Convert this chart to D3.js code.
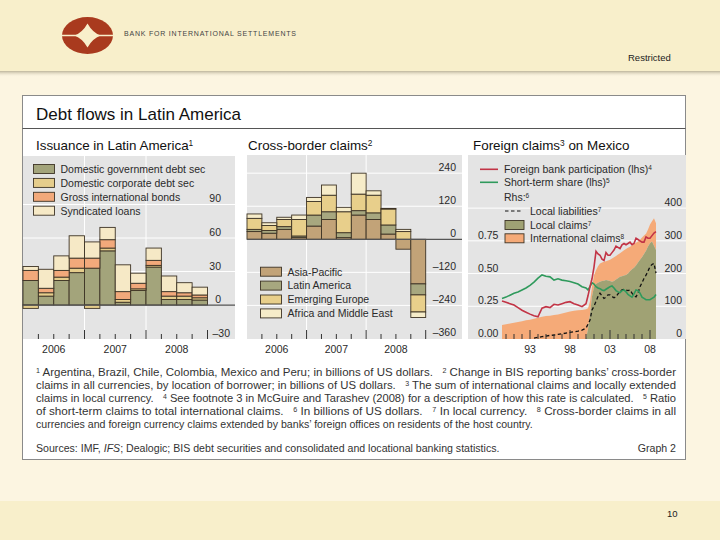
<!DOCTYPE html>
<html><head><meta charset="utf-8">
<script src="https://cdn.jsdelivr.net/npm/d3@7"></script>
<style>
body{margin:0;background:#fcf5e1;}
svg{display:block;font-family:"Liberation Sans",Arial,sans-serif;}
text{white-space:pre;}
</style></head><body>
<svg id="c" width="720" height="540"></svg>
<script>
// ---------- DATA ----------
const quarters = ["2006Q1","2006Q2","2006Q3","2006Q4","2007Q1","2007Q2","2007Q3","2007Q4","2008Q1","2008Q2","2008Q3","2008Q4"];
const yearLabels = ["2006","2007","2008"];

// Panel 1: Issuance in Latin America (USD bn)
const govDebt   = [22, 8, 22, 29, 33, 48.5, 2.5, 13, 34, 5, 5, 4.5];
const corpDebt  = [-3, 3, 3, 4, -3, 2.5, 2.5, 1.5, 1.5, 3, 3, 2];
const intlBonds = [9, 4, 6, 9, 9, 7.5, 7, 5, 4.5, 4, 3, 2.5];
const syndLoans = [3.5, 17, 13, 20, 14.5, 11, 24, 9, 11, 14, 9, 7];
const issuanceNames = ["Domestic government debt sec","Domestic corporate debt sec","Gross international bonds","Syndicated loans"];
const issuanceTicks = [-30, 0, 30, 60, 90];

// Panel 2: Cross-border claims (USD bn)
const asiaPacific = [28, 22, 36, 6, 48, 72, 6, 88, 72, 19, -36, -162];
const latinAm     = [8, 10, 10, 6, 40, 28, 18, 16, 24, 33, 0, -40];
const emEurope    = [40, 18, 26, 60, 49, 60, 76, 60, 64, 58, 28, -62];
const africaME    = [16, 10, 8, 16, 15, 37, 16, 76, 16, 2, 8, -20];
const crossNames = ["Asia-Pacific","Latin America","Emerging Europe","Africa and Middle East"];
const crossTicks = [-360, -240, -120, 0, 120, 240];

// Panel 3: Foreign claims on Mexico (semi-annual to 1999, quarterly from 2000)
const mexDates = [1989.5,1990,1990.5,1991,1991.5,1992,1992.5,1993,1993.5,1994,1994.5,1995,1995.5,1996,1996.5,1997,1997.5,1998,1998.5,1999,1999.5,
  2000,2000.25,2000.5,2000.75,2001,2001.25,2001.5,2001.75,2002,2002.25,2002.5,2002.75,2003,2003.25,2003.5,2003.75,2004,2004.25,2004.5,2004.75,
  2005,2005.25,2005.5,2005.75,2006,2006.25,2006.5,2006.75,2007,2007.25,2007.5,2007.75,2008,2008.25,2008.5,2008.75];
const foreignBankPart = [0.29,0.28,0.27,0.26,0.24,0.22,0.205,0.19,0.178,0.17,0.235,0.247,0.24,0.265,0.26,0.27,0.28,0.285,0.27,0.26,0.247,
  0.27,0.33,0.40,0.46,0.55,0.67,0.65,0.64,0.61,0.60,0.66,0.64,0.64,0.66,0.68,0.71,0.70,0.69,0.72,0.73,
  0.72,0.73,0.74,0.72,0.73,0.77,0.76,0.75,0.74,0.74,0.78,0.77,0.77,0.79,0.81,0.82];
const shortTermShare = [0.31,0.32,0.335,0.35,0.36,0.375,0.39,0.41,0.435,0.465,0.49,0.48,0.475,0.45,0.46,0.45,0.445,0.44,0.43,0.42,0.40,
  0.39,0.375,0.40,0.43,0.42,0.40,0.39,0.385,0.375,0.37,0.38,0.39,0.40,0.405,0.39,0.37,0.36,0.355,0.37,0.375,
  0.36,0.34,0.33,0.32,0.345,0.375,0.37,0.35,0.32,0.31,0.30,0.30,0.30,0.31,0.32,0.34];
const localClaims = [0,0,0,0,0,0,0,0,0,0,0,0,0,0,0,0,0,0,0,0,0,
  0,30,75,130,160,168,172,175,177,178,180,179,177,175,177,182,186,190,192,194,
  196,200,207,213,218,225,234,242,250,260,270,283,293,298,285,272];
const intlClaims = [43,45,47,50,52,54,57,59,62,65,68,70,71,73,75,78,81,84,86,88,89,
  91,64,40,30,35,42,50,56,57,58,58,61,65,71,73,72,72,72,75,77,
  79,79,75,73,72,69,64,61,60,56,52,52,57,62,84,82];
const localLiab = [null,null,null,null,null,null,null,null,3,5,7,9,11,12,14,16,18,20,22,24,27,
  33,45,58,89,100,115,130,140,132,124,128,135,135,130,126,129,138,145,150,152,
  150,148,150,140,132,129,140,160,172,185,195,208,221,228,231,201];
const lhsTicks = [0, 0.25, 0.5, 0.75];
const lhsTickLabels = ["0.00","0.25","0.50","0.75"];
const rhsTicks = [0, 100, 200, 300, 400];
const mexYears = [1993, 1998, 2003, 2008];
const mexYearLabels = ["93","98","03","08"];

// ---------- STYLE ----------
const GRAY = "#e4e4e4";
const INK = "#2a2a2a";
const svg = d3.select("#c");
const defs = svg.append("defs");

svg.append("rect").attr("width",720).attr("height",540).attr("fill","#fcf5e1");
svg.append("rect").attr("width",720).attr("height",71).attr("fill","#f8efcb");
const sh = defs.append("linearGradient").attr("id","sh").attr("x1",0).attr("y1",0).attr("x2",0).attr("y2",1);
sh.append("stop").attr("offset",0).attr("stop-color","#bdb59c");
sh.append("stop").attr("offset",1).attr("stop-color","#fcf5e1").attr("stop-opacity",0);
svg.append("rect").attr("y",71).attr("width",720).attr("height",6).attr("fill","url(#sh)");
svg.append("rect").attr("y",501).attr("width",720).attr("height",39).attr("fill","#f8efcb");

// logo
const logo = svg.append("g").attr("transform","translate(87.5,35.5)");
logo.append("ellipse").attr("rx",25.5).attr("ry",18.5).attr("fill","#a93a1e");
logo.append("path").attr("d","M0,-12 Q5,-3 13,0 Q5,3 0,12 Q-5,3 -13,0 Q-5,-3 0,-12Z").attr("fill","#f8efcb");
logo.append("line").attr("x1",-26).attr("x2",26).attr("y1",0).attr("y2",0).attr("stroke","#f8efcb").attr("stroke-width",1.6);
svg.append("text").attr("x",124).attr("y",36).attr("font-size",7).attr("fill","#444")
  .attr("textLength",172).attr("lengthAdjust","spacing").text("BANK FOR INTERNATIONAL SETTLEMENTS");
svg.append("text").attr("x",628).attr("y",61).attr("font-size",9.5).attr("fill","#222").text("Restricted");
svg.append("text").attr("x",667).attr("y",517).attr("font-size",9.5).attr("fill","#222").text("10");

// chart box
svg.append("rect").attr("x",22.5).attr("y",95.5).attr("width",663).attr("height",364).attr("fill","#fff").attr("stroke","#8a8a8a");
svg.append("text").attr("x",36).attr("y",120).attr("font-size",17).attr("fill","#111").text("Debt flows in Latin America");
svg.append("line").attr("x1",22.5).attr("x2",685.5).attr("y1",128.5).attr("y2",128.5).attr("stroke","#555");

function rich(sel, parts) {
  parts.forEach(p => {
    const t = sel.append("tspan").text(p[0]);
    if (p[1] === "sup") t.attr("font-size","0.62em").attr("baseline-shift","45%");
    if (p[1] === "it") t.attr("font-style","italic");
  });
  return sel;
}
function panelTitle(x, parts) {
  rich(svg.append("text").attr("x",x).attr("y",150).attr("font-size",13.4).attr("fill","#111"), parts);
}
panelTitle(36, [["Issuance in Latin America"],["1","sup"]]);
panelTitle(248, [["Cross-border claims"],["2","sup"]]);
panelTitle(473, [["Foreign claims"],["3","sup"],[" on Mexico"]]);

// ---------- stacked bar panels ----------
function stackedPanel(o) {
  const g = svg.append("g");
  g.append("rect").attr("x",o.x0).attr("y",o.yTop).attr("width",o.x1-o.x0).attr("height",o.yBot-o.yTop).attr("fill",GRAY);
  const y = d3.scaleLinear().domain(o.domain).range([o.yBot,o.yTop]);
  const x = d3.scaleBand().domain(quarters).range([o.x0,o.barsEnd]);
  const step = x.step();
  o.ticks.forEach(t => {
    if (t !== 0 && y(t) < o.yBot-1)
      g.append("line").attr("x1",o.x0).attr("x2",o.x1).attr("y1",y(t)).attr("y2",y(t)).attr("stroke","#fff").attr("stroke-width",1);
  });
  [4,8].forEach(i => g.append("line").attr("x1",o.x0+i*step).attr("x2",o.x0+i*step).attr("y1",o.yTop).attr("y2",o.yBot).attr("stroke","#fff"));
  const rows = quarters.map((q,i) => { const r = {q}; o.keys.forEach((k,j) => r[k] = o.series[j][i]); return r; });
  const st = d3.stack().keys(o.keys).offset(d3.stackOffsetDiverging)(rows);
  st.forEach((layer, j) => {
    g.selectAll(null).data(layer.filter(d => d[1] !== d[0])).join("rect")
      .attr("x", d => x(d.data.q)).attr("width", x.bandwidth())
      .attr("y", d => y(Math.max(d[0],d[1]))).attr("height", d => Math.abs(y(d[0]) - y(d[1])))
      .attr("fill", o.colors[j]).attr("stroke", "#3d3325").attr("stroke-width", 0.9);
  });
  g.append("line").attr("x1",o.x0).attr("x2",o.x1).attr("y1",y(0)).attr("y2",y(0)).attr("stroke","#555").attr("stroke-width",1.2);
  o.ticks.forEach(t => {
    g.append("text").attr("x",o.labelX + (t < 0 ? o.negShift : 0)).attr("y",y(t)-2).attr("text-anchor","end").attr("font-size",10.5).attr("fill",INK)
      .text(t < 0 ? "\u2013" + Math.abs(t) : t);
  });
  for (let i = 1; i <= 12; i++) {
    const len = i % 4 === 0 ? 9 : 5;
    g.append("line").attr("x1",o.x0+i*step).attr("x2",o.x0+i*step).attr("y1",o.yBot).attr("y2",o.yBot-len).attr("stroke","#333");
  }
  yearLabels.forEach((yl,k) => {
    g.append("text").attr("x",o.x0+(4*k+2)*step).attr("y",353).attr("text-anchor","middle").attr("font-size",10.5).attr("fill",INK).text(yl);
  });
  o.names.forEach((n,j) => {
    const cy = o.legY + j*o.legDy;
    g.append("rect").attr("x",o.legX).attr("y",cy-4.5).attr("width",21).attr("height",9).attr("fill",o.colors[j]).attr("stroke","#3d3325").attr("stroke-width",0.9);
    g.append("text").attr("x",o.legX+27).attr("y",cy+3.8).attr("font-size",10.5).attr("fill",INK).text(n);
  });
}

stackedPanel({
  x0:23, x1:235, barsEnd:207.5, yTop:156, yBot:339, domain:[-30.4,133.4],
  keys:["gov","corp","bonds","synd"], series:[govDebt,corpDebt,intlBonds,syndLoans],
  colors:["#a3a47b","#e5cd8c","#f2a97b","#f6e9c6"], ticks:issuanceTicks, labelX:221, negShift:9,
  names:issuanceNames, legX:33.5, legY:169, legDy:13.9
});
stackedPanel({
  x0:247, x1:462, barsEnd:425.7, yTop:155, yBot:339, domain:[-362,306],
  keys:["asia","latam","eur","afr"], series:[asiaPacific,latinAm,emEurope,africaME],
  colors:["#c2a378","#a7a77f","#e8cf8b","#f6ecc9"], ticks:crossTicks, labelX:456, negShift:0,
  names:crossNames, legX:260.5, legY:271.7, legDy:13.9
});

// ---------- Panel 3 ----------
(function(){
  const x0 = 468, x1 = 686, yTop = 155, yBot = 339;
  const g = svg.append("g");
  g.append("rect").attr("x",x0).attr("y",yTop).attr("width",x1-x0).attr("height",yBot-yTop).attr("fill",GRAY);
  const x = d3.scaleLinear().domain([1989.5, 2008.875]).range([502, 657]);
  const yR = d3.scaleLinear().domain([0, 562.4]).range([yBot, yTop]);
  const yL = d3.scaleLinear().domain([0, 1.406]).range([yBot, yTop]);
  rhsTicks.forEach(t => { if (t > 0) g.append("line").attr("x1",x0).attr("x2",x1).attr("y1",yR(t)).attr("y2",yR(t)).attr("stroke","#fff"); });
  const rows = mexDates.map((d,i) => ({d, local: localClaims[i], intl: intlClaims[i]}));
  const st = d3.stack().keys(["local","intl"])(rows);
  const area = d3.area().x(d => x(d.data.d)).y0(d => yR(d[0])).y1(d => yR(d[1]));
  g.append("path").attr("d", area(st[1])).attr("fill","#f5aa78");
  g.append("path").attr("d", area.defined(d => d[1] > 0 || d.data.d >= 1999.5)(st[0])).attr("fill","#a0a274");
  g.append("path").attr("d", d3.line().defined(d => d[1] !== null).x(d => x(d[0])).y(d => yR(d[1]))(mexDates.map((d,i)=>[d, localLiab[i]])))
    .attr("fill","none").attr("stroke","#111").attr("stroke-width",1.3).attr("stroke-dasharray","3.5,2.5");
  const lineL = d3.line().x(d => x(d[0])).y(d => yL(d[1]));
  g.append("path").attr("d", lineL(mexDates.map((d,i)=>[d, shortTermShare[i]]))).attr("fill","none").attr("stroke","#2f9a5c").attr("stroke-width",1.6);
  g.append("path").attr("d", lineL(mexDates.map((d,i)=>[d, foreignBankPart[i]]))).attr("fill","none").attr("stroke","#c23446").attr("stroke-width",1.6);
  lhsTicks.forEach((t,i) => g.append("text").attr("x",478).attr("y",yL(t)-2).attr("font-size",10.5).attr("fill",INK).text(lhsTickLabels[i]));
  rhsTicks.forEach(t => g.append("text").attr("x",682).attr("y",yR(t)-2).attr("text-anchor","end").attr("font-size",10.5).attr("fill",INK).text(t));
  for (let yr = 1990; yr <= 2008; yr++) {
    const len = mexYears.includes(yr) ? 9 : 5;
    g.append("line").attr("x1",x(yr)).attr("x2",x(yr)).attr("y1",yBot).attr("y2",yBot-len).attr("stroke","#333");
  }
  mexYears.forEach((yr,i) => g.append("text").attr("x",x(yr)).attr("y",353).attr("text-anchor","middle").attr("font-size",10.5).attr("fill",INK).text(mexYearLabels[i]));
  // legend
  const ly = [169.3, 182.3, 196.7, 211, 225, 238.3];
  g.append("line").attr("x1",480).attr("x2",498).attr("y1",ly[0]).attr("y2",ly[0]).attr("stroke","#c23446").attr("stroke-width",1.6);
  g.append("line").attr("x1",480).attr("x2",498).attr("y1",ly[1]).attr("y2",ly[1]).attr("stroke","#2f9a5c").attr("stroke-width",1.6);
  g.append("line").attr("x1",505).attr("x2",523).attr("y1",ly[3]).attr("y2",ly[3]).attr("stroke","#111").attr("stroke-width",1.2).attr("stroke-dasharray","3.5,2.5");
  g.append("rect").attr("x",505).attr("y",ly[4]-4.5).attr("width",19).attr("height",9).attr("fill","#a0a274").attr("stroke","#3d3325").attr("stroke-width",0.9);
  g.append("rect").attr("x",505).attr("y",ly[5]-4.5).attr("width",19).attr("height",9).attr("fill","#f5aa78").attr("stroke","#3d3325").attr("stroke-width",0.9);
  const labs = [
    [["Foreign bank participation (lhs)"],["4","sup"]],
    [["Short-term share (lhs)"],["5","sup"]],
    [["Rhs:"],["6","sup"]],
    [["Local liabilities"],["7","sup"]],
    [["Local claims"],["7","sup"]],
    [["International claims"],["8","sup"]]
  ];
  const tx = [504, 504, 504, 530, 530, 530];
  labs.forEach((p,i) => rich(g.append("text").attr("x", tx[i]).attr("y",ly[i]+3.8).attr("font-size",10.5).attr("fill",INK), p));
})();

// ---------- footnotes ----------
const notes = [
  [["1","sup"],[" Argentina, Brazil, Chile, Colombia, Mexico and Peru; in billions of US dollars.   "],["2","sup"],[" Change in BIS reporting banks\u2019 cross-border"]],
  [["claims in all currencies, by location of borrower; in billions of US dollars.   "],["3","sup"],[" The sum of international claims and locally extended"]],
  [["claims in local currency.   "],["4","sup"],[" See footnote 3 in McGuire and Tarashev (2008) for a description of how this rate is calculated.   "],["5","sup"],[" Ratio"]],
  [["of short-term claims to total international claims.   "],["6","sup"],[" In billions of US dollars.   "],["7","sup"],[" In local currency.   "],["8","sup"],[" Cross-border claims in all"]],
  [["currencies and foreign currency claims extended by banks\u2019 foreign offices on residents of the host country."]]
];
notes.forEach((p,i) => {
  const t = svg.append("text").attr("x",36).attr("y",376 + i*13).attr("font-size",10.6).attr("fill","#333");
  if (i < 4) t.attr("textLength",640).attr("lengthAdjust","spacingAndGlyphs");
  rich(t, p);
});
rich(svg.append("text").attr("x",36).attr("y",452).attr("font-size",10.6).attr("fill","#333"),
  [["Sources: IMF, "],["IFS","it"],["; Dealogic; BIS debt securities and consolidated and locational banking statistics."]]);
svg.append("text").attr("x",676).attr("y",452).attr("text-anchor","end").attr("font-size",10.6).attr("fill","#333").text("Graph 2");
</script></body></html>
